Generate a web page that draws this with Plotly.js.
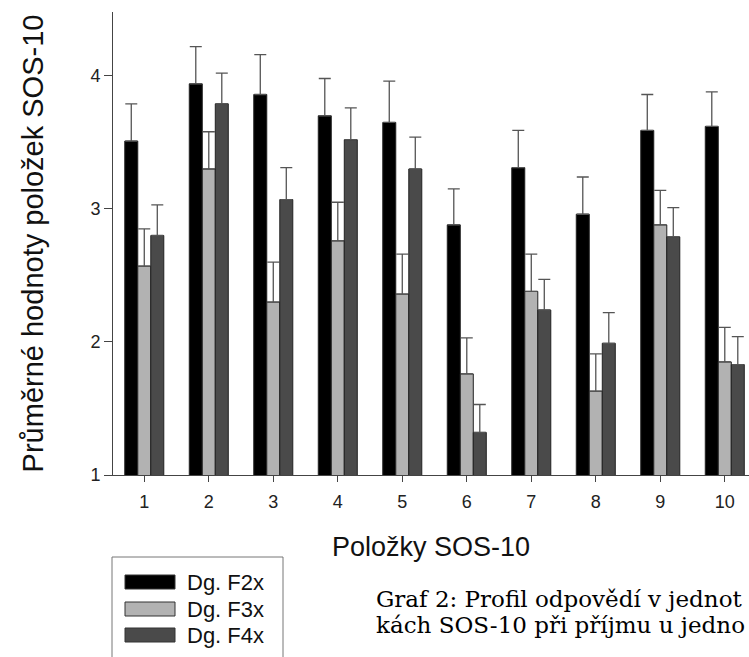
<!DOCTYPE html>
<html><head><meta charset="utf-8">
<script src="https://cdn.plot.ly/plotly-3.0.1.min.js"></script>
<style>html,body{margin:0;padding:0;background:#fff;overflow:hidden}</style>
</head><body><div id="chart" style="width:749px;height:657px"></div>
<script>
// ---- data ----
const items = [1, 2, 3, 4, 5, 6, 7, 8, 9, 10];
const tickLabels = ['1', '2', '3', '4', '5', '6', '7', '8', '9', '10'];
const seriesNames = ['Dg. F2x', 'Dg. F3x', 'Dg. F4x'];
const f2x    = [3.51, 3.94, 3.86, 3.70, 3.65, 2.88, 3.31, 2.96, 3.59, 3.62];
const f2xErr = [0.28, 0.28, 0.30, 0.28, 0.31, 0.27, 0.28, 0.28, 0.27, 0.26];
const f3x    = [2.57, 3.30, 2.30, 2.76, 2.36, 1.76, 2.38, 1.63, 2.88, 1.85];
const f3xErr = [0.28, 0.28, 0.30, 0.29, 0.30, 0.27, 0.28, 0.28, 0.26, 0.26];
const f4x    = [2.80, 3.79, 3.07, 3.52, 3.30, 1.32, 2.24, 1.99, 2.79, 1.83];
const f4xErr = [0.23, 0.23, 0.24, 0.24, 0.24, 0.21, 0.23, 0.23, 0.22, 0.21];
const yTickVals = [1, 2, 3, 4];
const xTitle = 'Položky SOS-10';
const yTitle = 'Průměrné hodnoty položek SOS-10';
const captionLines = ['Graf 2: Profil odpovědí v jednot', 'kách SOS-10 při příjmu u jedno'];

// ---- styles ----
const colors = ['#000000', '#b2b2b2', '#4a4a4a'];
const values = [f2x, f3x, f4x];
const errors = [f2xErr, f3xErr, f4xErr];

const W = 749, H = 657, ML = 113, MR = 0, MT = 12, MB = 182;
const PW = W - ML - MR, PH = H - MT - MB;
const px = x => (x - ML) / PW;
const py = y => (H - MB - y) / PH;

const traces = values.map((v, i) => ({
  type: 'bar',
  name: seriesNames[i],
  x: items,
  y: v,
  marker: {color: colors[i], line: {color: '#222', width: 1}},
  error_y: {
    type: 'data', symmetric: false, array: errors[i],
    arrayminus: errors[i].map(() => 0),
    color: '#555', thickness: 1.3, width: 6
  },
  showlegend: false,
  hoverinfo: 'x+y'
}));

const sans = 'Liberation Sans, Arial, sans-serif';

// custom legend (box, swatches, labels)
const legTop = 557, legRows = [582, 609, 635];
const shapes = [{
  type: 'rect', xref: 'paper', yref: 'paper',
  x0: px(112), x1: px(283), y0: py(legTop), y1: py(H + 20),
  line: {color: '#777', width: 1}, fillcolor: 'rgba(0,0,0,0)'
}];
const annotations = [];
seriesNames.forEach((n, i) => {
  shapes.push({
    type: 'rect', xref: 'paper', yref: 'paper',
    x0: px(125), x1: px(175), y0: py(legRows[i] + 7), y1: py(legRows[i] - 7),
    line: {color: '#333', width: 1}, fillcolor: colors[i]
  });
  annotations.push({
    xref: 'paper', yref: 'paper', x: px(185), y: py(legRows[i]),
    xanchor: 'left', yanchor: 'middle', showarrow: false, text: n,
    font: {family: sans, size: 22, color: '#111'}
  });
});
captionLines.forEach((t, i) => {
  annotations.push({
    xref: 'paper', yref: 'paper', x: px(374), y: py(599 + i * 26),
    xanchor: 'left', yanchor: 'middle', showarrow: false, text: t,
    font: {family: 'DejaVu Serif, serif', size: 23, color: '#000'}
  });
});

const layout = {
  width: W, height: H,
  margin: {l: ML, r: MR, t: MT, b: MB, pad: 0},
  paper_bgcolor: '#fff', plot_bgcolor: '#fff',
  barmode: 'group', bargap: 0.395, bargroupgap: 0,
  showlegend: false,
  xaxis: {
    range: [0.515, 0.515 + PW / 64.5],
    tickmode: 'array', tickvals: items, ticktext: tickLabels,
    ticks: 'outside', ticklen: 6, tickcolor: '#444', tickwidth: 1,
    ticklabelstandoff: 4,
    showline: true, linecolor: '#444', linewidth: 1,
    showgrid: false, zeroline: false,
    tickfont: {family: sans, size: 18, color: '#222'},
    title: {text: xTitle, font: {family: sans, size: 27, color: '#111'}, standoff: 26}
  },
  yaxis: {
    range: [1, 4.48],
    tickmode: 'array', tickvals: yTickVals,
    ticks: 'outside', ticklen: 8, tickcolor: '#444', tickwidth: 1,
    showline: true, linecolor: '#444', linewidth: 1,
    showgrid: false, zeroline: false,
    tickfont: {family: sans, size: 18, color: '#222'},
    title: {text: yTitle, font: {family: sans, size: 29, color: '#111'}, standoff: 38}
  },
  shapes: shapes,
  annotations: annotations
};

Plotly.newPlot('chart', traces, layout, {staticPlot: true, displayModeBar: false});
</script>
</body></html>
